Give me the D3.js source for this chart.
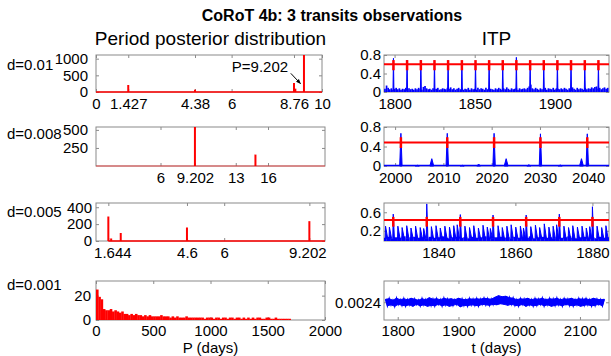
<!DOCTYPE html>
<html>
<head>
<meta charset="utf-8">
<script src="https://cdn.jsdelivr.net/npm/d3@7"></script>
<style>
  body { margin: 0; background: #fff; }
  svg { font-family: "Liberation Sans", Arial, sans-serif; }
  .tick line { stroke: #8a8a8a; }
  .tick text { fill: #000; font-size: 15px; }
</style>
</head>
<body>
<script>
// ---------- left column: period posterior histograms ----------
const hist1Period = [1.427, 4.38, 8.76, 8.82, 9.202];
const hist1Count  = [210, 70, 270, 100, 1300];
const hist1Span   = [0, 10];
const hist1XTicks = [0, 1.427, 4.38, 6, 8.76, 10];
const hist1YTicks = [0, 500, 1000];

const hist2Period = [9.202, 14.83];
const hist2Count  = [600, 158];
const hist2Span   = [0, 21.3];
const hist2XTicks = [6, 9.202, 13, 16];
const hist2YTicks = [250, 500];

const hist3Period = [1.644, 1.75, 2.11, 4.6, 4.65, 9.202];
const hist3Count  = [290, 30, 95, 160, 5, 235];
const hist3Span   = [1.644, 9.79];
const hist3XTicks = [1.644, 4.6, 6, 9.202];
const hist3YTicks = [0, 200, 400];

// d=0.001 : counts in 20-day bins starting at P=0
const hist4BinWidth = 20;
const hist4Counts = [25, 19, 17, 9, 8, 8, 9, 7, 8, 7, 6, 7, 5, 5, 4, 5, 4, 5, 4, 4,
                     3, 4, 3, 4, 3, 3, 3, 3, 4, 3, 3, 3, 2, 3, 2, 3, 2, 2, 2, 3,
                     2, 2, 2, 2, 2, 2, 2, 1, 2, 2, 2, 1, 2, 2, 1, 2, 2, 1, 2, 2,
                     1, 2, 2, 1, 2, 1, 2, 1, 2, 1, 2, 2, 1, 1, 2, 2, 1, 1, 2, 1,
                     1, 1, 1, 1, 1];
const hist4XTicks = [0, 500, 1000, 1500, 2000];
const hist4YTicks = [0, 20];

const dLabels = ["d=0.01", "d=0.008", "d=0.005", "d=0.001"];

// ---------- right column: ITP ----------
const itp1PeakT = [1799.3, 1807.8, 1816.4, 1824.9, 1833.4, 1842.0, 1850.5, 1859.0,
                   1867.5, 1876.0, 1884.6, 1893.1, 1901.6, 1910.1, 1918.7, 1927.2];
const itp1PeakV = [0.73, 0.69, 0.69, 0.68, 0.68, 0.67, 0.66, 0.67,
                   0.65, 0.75, 0.65, 0.64, 0.67, 0.63, 0.63, 0.62];
const itp1Threshold = 0.6;
const itp1Mark = [0.47, 0.69];
const itp1NoiseStart = 1794;
const itp1Noise = [
  .07,.14,.09,.06,.08,.05,.07,.09,.06,.08, .05,.07,.06,.09,.05,.08,.06,.07,.05,.08,
  .06,.09,.07,.05,.11,.13,.08,.06,.07,.05, .08,.06,.07,.09,.05,.06,.08,.07,.06,.09,
  .07,.10,.06,.08,.05,.07,.09,.06,.08,.05, .07,.06,.09,.05,.08,.06,.07,.05,.09,.06,
  .08,.07,.05,.09,.06,.08,.07,.06,.05,.08, .06,.09,.07,.05,.08,.06,.10,.07,.05,.08,
  .06,.07,.09,.05,.08,.06,.07,.08,.06,.09, .12,.16,.08,.06,.09,.07,.05,.08,.06,.07,
  .09,.05,.08,.07,.06,.09,.05,.08,.07,.06, .08,.06,.09,.07,.05,.08,.06,.10,.07,.05,
  .09,.06,.08,.07,.05,.09,.06,.08,.07,.10, .08,.11,.12,.07,.09,.06,.08,.10,.07,.09];
const itp1XTicks = [1800, 1850, 1900];
const itp1YTicks = [0, 0.4, 0.8];

const itp2PeakT = [2001.2, 2010.8, 2020.5, 2030.1, 2039.8];
const itp2PeakV = [0.67, 0.67, 0.67, 0.66, 0.66];
const itp2BumpT = [2004.6, 2007.6, 2013.9, 2017.3, 2023.0, 2027.7, 2034.2, 2038.6];
const itp2BumpV = [0.015, 0.15, 0.015, 0.04, 0.15, 0.025, 0.02, 0.15];
const itp2Floor = 0.01;
const itp2Threshold = 0.484;
const itp2Mark = [0.37, 0.59];
const itp2XTicks = [2000, 2010, 2020, 2030, 2040];
const itp2YTicks = [0, 0.4, 0.8];

const itp3PeakT = [1828.3, 1837.0, 1845.7, 1854.2, 1862.8, 1871.4, 1880.0];
const itp3PeakV = [0.56, 0.78, 0.55, 0.54, 0.54, 0.56, 0.72];
const itp3SubT = [1826.3, 1827.3,
  1829.5, 1830.6, 1831.8, 1832.9, 1834.1, 1835.3, 1836.2,
  1838.2, 1839.4, 1840.5, 1841.7, 1842.9, 1844.0, 1844.9,
  1846.9, 1848.1, 1849.2, 1850.4, 1851.6, 1852.7, 1853.5,
  1855.5, 1856.6, 1857.8, 1858.9, 1860.1, 1861.3, 1862.1,
  1864.0, 1865.2, 1866.3, 1867.5, 1868.7, 1869.8, 1870.7,
  1872.6, 1873.8, 1874.9, 1876.1, 1877.3, 1878.4, 1879.3,
  1881.2, 1882.4, 1883.5];
const itp3SubV = [0.30, 0.28,
  0.30, 0.27, 0.31, 0.26, 0.30, 0.27, 0.25,
  0.29, 0.31, 0.26, 0.30, 0.28, 0.31, 0.33,
  0.30, 0.27, 0.31, 0.26, 0.32, 0.28, 0.25,
  0.31, 0.27, 0.30, 0.33, 0.28, 0.30, 0.26,
  0.29, 0.32, 0.27, 0.35, 0.28, 0.30, 0.33,
  0.30, 0.27, 0.31, 0.28, 0.30, 0.26, 0.29,
  0.30, 0.27, 0.31];
const itp3NoiseStart = 1826;
const itp3Noise = [
  .05,.07,.04,.06,.05,.08,.04,.06,.07,.05, .06,.04,.07,.05,.06,.08,.05,.04,.06,.07,
  .05,.06,.04,.07,.05,.06,.08,.05,.04,.06, .07,.05,.06,.04,.07,.05,.06,.05,.08,.04,
  .06,.07,.05,.06,.04,.07,.05,.06,.08,.05, .04,.06,.07,.05,.06,.04,.07,.05,.06];
const itp3Threshold = 0.433;
const itp3Mark = [0.29, 0.50];
const itp3XTicks = [1840, 1860, 1880];
const itp3YTicks = [0.2, 0.6];

// d=0.001 ITP, values in units of 1e-3, one every 3 days from t=1780
const itp4Start = 1780, itp4Step = 3;
const itp4Values = [
  2.46,2.33,2.47,2.35,2.44,2.32,2.48,2.36,2.45,2.34, 2.47,2.33,2.45,2.35,2.48,2.32,2.46,2.36,2.44,2.33,
  2.47,2.35,2.45,2.32,2.49,2.34,2.46,2.33,2.47,2.36, 2.45,2.33,2.48,2.35,2.46,2.32,2.47,2.34,2.45,2.36,
  2.48,2.31,2.46,2.34,2.45,2.33,2.47,2.35,2.46,2.34, 2.47,2.33,2.46,2.36,2.48,2.35,2.47,2.34,2.46,2.36,
  2.50,2.35,2.53,2.37,2.51,2.36,2.52,2.34,2.49,2.36, 2.48,2.34,2.45,2.33,2.47,2.36,2.46,2.32,2.48,2.35,
  2.45,2.33,2.47,2.34,2.46,2.36,2.48,2.33,2.45,2.35, 2.47,2.32,2.46,2.34,2.48,2.35,2.45,2.33,2.47,2.36,
  2.46,2.34,2.48,2.33,2.45,2.35,2.47,2.32,2.46,2.34, 2.47,2.35,2.45,2.33,2.48,2.34,2.46,2.36,2.45,2.33,
  2.46];
const itp4XTicks = [1800, 1900, 2000, 2100];
const itp4YTicks = [2.4];

// ---------- layout ----------
const svg = d3.select("body").append("svg").attr("width", 611).attr("height", 356);
const RED = "#ff0000", BLUE = "#0000ff", FRAME = "#8a8a8a";

const defs = svg.append("defs");
defs.append("marker").attr("id", "arrow").attr("viewBox", "0 0 10 10")
  .attr("refX", 9).attr("refY", 5).attr("markerWidth", 5).attr("markerHeight", 5)
  .attr("orient", "auto")
  .append("path").attr("d", "M0,1L10,5L0,9z").attr("fill", "#000");

let clipId = 0;
function panel(x, y, xt, yt, opt) {
  const [xl, xr] = x.range(), [yb, ytop] = y.range();
  const g = svg.append("g");
  const fmtX = opt.xfmt || (d => d), fmtY = opt.yfmt || (d => d);
  g.append("g").attr("transform", `translate(0,${yb})`)
    .call(d3.axisBottom(x).tickValues(xt).tickSize(-3).tickPadding(opt.xpad ?? 6.5).tickFormat(fmtX));
  g.append("g").attr("transform", `translate(0,${ytop})`)
    .call(d3.axisTop(x).tickValues(xt).tickSize(-3).tickFormat(""));
  g.append("g").attr("transform", `translate(${xl},0)`)
    .call(d3.axisLeft(y).tickValues(yt).tickSize(-3).tickPadding(opt.ypad).tickFormat(fmtY));
  g.append("g").attr("transform", `translate(${xr},0)`)
    .call(d3.axisRight(y).tickValues(yt).tickSize(-3).tickFormat(""));
  g.selectAll(".domain").remove();
  if (opt.xshift) {
    g.selectAll(".tick text").filter(d => d in opt.xshift).attr("dx", d => opt.xshift[d]);
  }
  g.append("rect").attr("x", xl).attr("y", ytop).attr("width", xr - xl).attr("height", yb - ytop)
    .attr("fill", "none").attr("stroke", FRAME).attr("stroke-width", 1);
  const id = "clip" + (clipId++);
  defs.append("clipPath").attr("id", id).append("rect")
    .attr("x", xl).attr("y", ytop).attr("width", xr - xl).attr("height", yb - ytop + 1);
  return svg.append("g").attr("clip-path", `url(#${id})`);
}

// histogram panel with spike bars
function spikes(x, y, period, count, span, xt, yt, opt, baseW) {
  const g = panel(x, y, xt, yt, opt);
  g.append("line").attr("x1", x(span[0])).attr("x2", x(span[1]))
    .attr("y1", y(0)).attr("y2", y(0)).attr("stroke", RED).attr("stroke-width", baseW);
  g.selectAll(".bar").data(period).enter().append("line")
    .attr("x1", d => x(d)).attr("x2", d => x(d))
    .attr("y1", y(0)).attr("y2", (d, i) => y(count[i]))
    .attr("stroke", RED).attr("stroke-width", 2);
  return g;
}

const LX = [96, 325], RX = [384, 609];
const ROWS = [[92, 55], [166, 127], [241, 203], [320, 281]];

// row 1 left
const x1 = d3.scaleLinear().domain([0, 10]).range([96, 322]);
const y1 = d3.scaleLinear().domain([0, 1110]).range(ROWS[0]);
spikes(x1, y1, hist1Period, hist1Count, hist1Span, hist1XTicks, hist1YTicks, { ypad: 8 }, 1.5);
svg.append("text").attr("x", x1(8.5)).attr("y", y1(600)).attr("text-anchor", "end")
  .style("font-size", "15px").text("P=9.202");
svg.append("line").attr("x1", x1(8.62)).attr("y1", y1(560)).attr("x2", x1(9.05)).attr("y2", y1(250))
  .attr("stroke", "#000").attr("stroke-width", 1).attr("marker-end", "url(#arrow)");

// row 2 left
const x2 = d3.scaleLinear().domain([0, 21.3]).range(LX);
const y2 = d3.scaleLinear().domain([0, 540]).range(ROWS[1]);
const g2 = spikes(x2, y2, hist2Period, hist2Count, hist2Span, hist2XTicks, hist2YTicks, { ypad: 8 }, 1);
g2.select("line").attr("stroke-opacity", 0.6);

// row 3 left
const x3 = d3.scaleLinear().domain([1.18, 9.79]).range(LX);
const y3 = d3.scaleLinear().domain([0, 450]).range(ROWS[2]);
spikes(x3, y3, hist3Period, hist3Count, hist3Span, hist3XTicks, hist3YTicks,
  { ypad: 4, xshift: { 1.644: 4, 9.202: -2 } }, 1.5);

// row 4 left
const x4 = d3.scaleLinear().domain([0, 2000]).range(LX);
const y4 = d3.scaleLinear().domain([0, 32]).range(ROWS[3]);
const g4 = panel(x4, y4, hist4XTicks, hist4YTicks, { ypad: 5, xpad: 5.5 });
g4.selectAll(".bin").data(hist4Counts).enter().append("rect")
  .attr("x", (d, i) => x4(i * hist4BinWidth))
  .attr("width", x4(hist4BinWidth) - x4(0) + 0.3)
  .attr("y", d => y4(d)).attr("height", d => y4(0) - y4(d))
  .attr("fill", RED);

// ITP helpers
function itpBase(g, x, y, t0, vals, w) {
  g.selectAll(null).data(vals).enter().append("line")
    .attr("x1", (d, i) => x(t0 + i)).attr("x2", (d, i) => x(t0 + i))
    .attr("y1", y(y.domain()[0])).attr("y2", d => y(d))
    .attr("stroke", BLUE).attr("stroke-width", w);
}
function itpPeaks(g, x, y, ts, vs, base, left, right) {
  g.selectAll(null).data(ts).enter().append("path")
    .attr("d", (t, i) => `M${x(t - left)},${y(base)}L${x(t)},${y(vs[i])}L${x(t + right)},${y(base)}Z`)
    .attr("fill", BLUE).attr("stroke", BLUE).attr("stroke-width", 1);
}
function itpThreshold(g, x, y, ts, thr, mark) {
  g.append("line").attr("x1", x.range()[0]).attr("x2", x.range()[1])
    .attr("y1", y(thr)).attr("y2", y(thr)).attr("stroke", RED).attr("stroke-width", 2);
  g.selectAll(null).data(ts).enter().append("line")
    .attr("x1", d => x(d)).attr("x2", d => x(d))
    .attr("y1", y(mark[0])).attr("y2", y(mark[1]))
    .attr("stroke", RED).attr("stroke-width", 2.5);
}

// row 1 right
const rx1 = d3.scaleLinear().domain([1793.4, 1933.8]).range(RX);
const ry1 = d3.scaleLinear().domain([0, 0.8]).range(ROWS[0]);
const r1 = panel(rx1, ry1, itp1XTicks, itp1YTicks, { ypad: 3 });
itpBase(r1, rx1, ry1, itp1NoiseStart, itp1Noise, 1.7);
itpPeaks(r1, rx1, ry1, itp1PeakT, itp1PeakV, 0.03, 0.3, 0.3);
itpThreshold(r1, rx1, ry1, itp1PeakT, itp1Threshold, itp1Mark);

// row 2 right
const rx2 = d3.scaleLinear().domain([1997.7, 2044.3]).range(RX);
const ry2 = d3.scaleLinear().domain([0, 0.8]).range(ROWS[1]);
const r2 = panel(rx2, ry2, itp2XTicks, itp2YTicks, { ypad: 3 });
r2.append("line").attr("x1", RX[0]).attr("x2", RX[1])
  .attr("y1", ry2(itp2Floor)).attr("y2", ry2(itp2Floor)).attr("stroke", BLUE).attr("stroke-width", 1.5);
itpPeaks(r2, rx2, ry2, itp2BumpT, itp2BumpV, 0, 0.4, 0.4);
itpPeaks(r2, rx2, ry2, itp2PeakT, itp2PeakV, 0, 0.25, 0.25);
itpThreshold(r2, rx2, ry2, itp2PeakT, itp2Threshold, itp2Mark);

// row 3 right
const rx3 = d3.scaleLinear().domain([1825.9, 1884.3]).range(RX);
const ry3 = d3.scaleLinear().domain([-0.02, 0.8]).range(ROWS[2]);
const r3 = panel(rx3, ry3, itp3XTicks, itp3YTicks, { ypad: 3 });
itpBase(r3, rx3, ry3, itp3NoiseStart, itp3Noise, 4);
itpPeaks(r3, rx3, ry3, itp3SubT, itp3SubV, 0.04, 0.08, 0.55);
itpPeaks(r3, rx3, ry3, itp3PeakT, itp3PeakV, 0.04, 0.12, 0.3);
itpThreshold(r3, rx3, ry3, itp3PeakT, itp3Threshold, itp3Mark);

// row 4 right: noisy band, upper samples (even) and lower samples (odd) filled between
const rx4 = d3.scaleLinear().domain([1777.4, 2147.8]).range(RX);
const ry4 = d3.scaleLinear().domain([2.05, 2.82]).range(ROWS[3]);
const r4 = panel(rx4, ry4, itp4XTicks, itp4YTicks,
  { ypad: 3, xpad: 5.5, yfmt: d => d3.format(".4f")(d / 1000) });
const itp4Pts = itp4Values.map((v, i) => [rx4(itp4Start + i * itp4Step), ry4(v)]);
const upper = itp4Pts.filter((p, i) => i % 2 === 0);
const lower = itp4Pts.filter((p, i) => i % 2 === 1).reverse();
r4.append("path").attr("d", d3.line()(upper.concat(lower)) + "Z")
  .attr("fill", BLUE).attr("stroke", BLUE).attr("stroke-width", 1);
r4.append("path").attr("d", d3.line()(itp4Pts))
  .attr("fill", "none").attr("stroke", BLUE).attr("stroke-width", 1.4);

// ---------- texts ----------
svg.append("text").attr("x", 332).attr("y", 21).attr("text-anchor", "middle")
  .style("font-size", "16px").style("font-weight", "bold")
  .text("CoRoT 4b: 3 transits observations");
svg.append("text").attr("x", (LX[0] + LX[1]) / 2).attr("y", 45).attr("text-anchor", "middle")
  .style("font-size", "19px").text("Period posterior distribution");
svg.append("text").attr("x", (RX[0] + RX[1]) / 2).attr("y", 45).attr("text-anchor", "middle")
  .style("font-size", "19px").text("ITP");

const dY = [65, 134, 212, 285];
svg.selectAll(".dlab").data(dLabels).enter().append("text")
  .attr("x", 7).attr("y", (d, i) => dY[i]).attr("dy", "0.35em")
  .style("font-size", "15px").text(d => d);

svg.append("text").attr("x", (LX[0] + LX[1]) / 2).attr("y", 353).attr("text-anchor", "middle")
  .style("font-size", "15px").text("P (days)");
svg.append("text").attr("x", (RX[0] + RX[1]) / 2).attr("y", 353).attr("text-anchor", "middle")
  .style("font-size", "15px").text("t (days)");
</script>
</body>
</html>
